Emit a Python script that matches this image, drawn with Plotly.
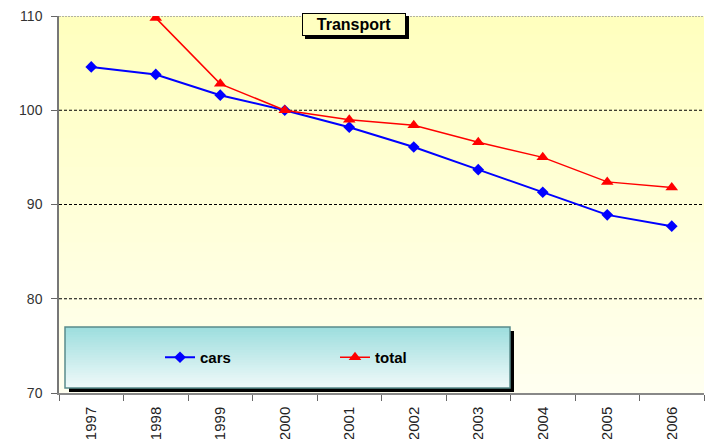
import plotly.graph_objects as go

years = ["1997", "1998", "1999", "2000", "2001", "2002", "2003", "2004", "2005", "2006"]
cars = [104.6, 103.8, 101.6, 100.0, 98.2, 96.1, 93.7, 91.3, 88.9, 87.7]
total = [None, 109.8, 102.8, 100.0, 99.0, 98.4, 96.6, 95.0, 92.4, 91.8]
y_ticks = [70, 80, 90, 100, 110]

W, H = 710, 439
L, R, T, B = 59, 6, 16, 46
PW, PH = W - L - R, H - T - B

def px_x(x):
    return (x - L) / PW

def px_y(y):
    return (H - B - y) / PH

def lerp(c0, c1, t):
    return "rgb(%d,%d,%d)" % tuple(round(a + (b - a) * t) for a, b in zip(c0, c1))

shapes = []
# plot background gradient
N = 40
top_c, bot_c = (255, 255, 190), (255, 255, 240)
for i in range(N):
    shapes.append(dict(type="rect", xref="paper", yref="paper",
                       x0=0, x1=1, y0=max(0, 1 - (i + 1.6) / N), y1=1 - i / N,
                       fillcolor=lerp(top_c, bot_c, i / (N - 1)),
                       line=dict(width=0), layer="below"))
# gridlines
for v in y_ticks[1:-1]:
    shapes.append(dict(type="line", xref="paper", yref="y", x0=0, x1=1, y0=v, y1=v,
                       line=dict(color="black", width=1, dash="3px,2px"), layer="below"))
shapes.append(dict(type="line", xref="paper", yref="y", x0=0, x1=1, y0=110, y1=110,
                   line=dict(color="#999999", width=1.5, dash="2px,1px"), layer="below"))

# legend box with shadow and gradient
lx0, lx1, ly0, ly1 = 65, 510, 327, 388
shapes.append(dict(type="rect", xref="paper", yref="paper",
                   x0=px_x(lx0 + 4), x1=px_x(lx1 + 4), y0=px_y(ly1 + 4), y1=px_y(ly0 + 4),
                   fillcolor="black", line=dict(width=0), layer="above"))
M = 24
ltop, lbot = (158, 222, 222), (238, 249, 249)
for i in range(M):
    ya = ly0 + (ly1 - ly0) * i / M
    yb = min(ly1, ly0 + (ly1 - ly0) * (i + 1.6) / M)
    shapes.append(dict(type="rect", xref="paper", yref="paper",
                       x0=px_x(lx0), x1=px_x(lx1), y0=px_y(yb), y1=px_y(ya),
                       fillcolor=lerp(ltop, lbot, i / (M - 1)),
                       line=dict(width=0), layer="above"))
shapes.append(dict(type="rect", xref="paper", yref="paper",
                   x0=px_x(lx0), x1=px_x(lx1), y0=px_y(ly1), y1=px_y(ly0),
                   fillcolor="rgba(0,0,0,0)", line=dict(color="#5a8c8c", width=1.5), layer="above"))

# title box shadow
tx0, tx1, ty0, ty1 = 302, 406, 13, 36
shapes.append(dict(type="rect", xref="paper", yref="paper",
                   x0=px_x(tx0 + 3), x1=px_x(tx1 + 3), y0=px_y(ty1 + 3), y1=px_y(ty0 + 3),
                   fillcolor="black", line=dict(width=0), layer="above"))

fig = go.Figure()
fig.add_trace(go.Scatter(x=years, y=cars, name="cars", mode="lines+markers",
                         line=dict(color="#0000ff", width=2),
                         marker=dict(symbol="diamond", size=9, color="#0000ff")))
fig.add_trace(go.Scatter(x=years, y=total, name="total", mode="lines+markers",
                         line=dict(color="#ff0000", width=1.5),
                         marker=dict(symbol="triangle-up", size=11, color="#ff0000")))

fig.update_layout(
    width=W, height=H,
    margin=dict(l=L, r=R, t=T, b=B, pad=0, autoexpand=False),
    paper_bgcolor="white", plot_bgcolor="rgba(0,0,0,0)",
    font=dict(family="Liberation Sans, Arial, sans-serif", size=13, color="#333333"),
    shapes=shapes,
    showlegend=True,
    legend=dict(orientation="h", x=px_x(160), y=px_y(357.5), xanchor="left", yanchor="middle",
                bgcolor="rgba(0,0,0,0)", borderwidth=0, entrywidth=130, entrywidthmode="pixels",
                font=dict(family="Liberation Sans, Arial, sans-serif", size=15, color="black", weight="bold")),
    annotations=[dict(text="<b>Transport</b>", xref="paper", yref="paper",
                      x=px_x((tx0 + tx1) / 2), y=px_y((ty0 + ty1) / 2),
                      xanchor="center", yanchor="middle", showarrow=False,
                      font=dict(family="Liberation Sans, Arial, sans-serif", size=16, color="black"),
                      bgcolor="#ffffc0", bordercolor="black", borderwidth=1, borderpad=2,
                      width=tx1 - tx0 - 6, height=ty1 - ty0 - 6)],
    xaxis=dict(type="category", tickson="boundaries", ticks="outside", ticklen=6,
               tickcolor="#666666", showline=True, linecolor="#888888", linewidth=1.5,
               showgrid=False, tickangle=-90, range=[-0.5, 9.5], automargin=False,
               ticklabelstandoff=6, tickfont=dict(size=15, color="#222222")),
    yaxis=dict(range=[70, 110], tickvals=y_ticks, ticks="outside", ticklen=6,
               tickcolor="#666666", showline=True, linecolor="#777777", linewidth=1.5,
               showgrid=False, zeroline=False, ticklabelstandoff=6, automargin=False,
               tickfont=dict(size=14, color="#333333")),
)

fig.write_html("out.html", config={"displayModeBar": False},
               post_script="document.body.style.margin='0';document.body.style.overflow='hidden';")
